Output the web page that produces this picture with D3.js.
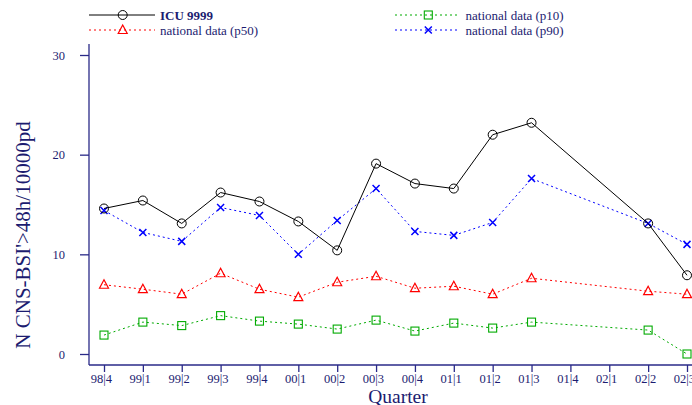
<!DOCTYPE html>
<html><head><meta charset="utf-8">
<script src="https://cdn.jsdelivr.net/npm/d3@7"></script>
<style>body{margin:0;background:#fff}svg{display:block}</style>
</head><body>
<svg id="c" width="692" height="405"></svg>
<script>
const quarters = ["98|4","99|1","99|2","99|3","99|4","00|1","00|2","00|3","00|4","01|1","01|2","01|3","01|4","02|1","02|2","02|3"];
const icu  = [14.6,15.4,13.1,16.2,15.3,13.3,10.4,19.1,17.1,16.6,22.0,23.2,null,null,13.1,7.9];
const p90  = [14.4,12.2,11.3,14.7,13.9,10.0,13.4,16.6,12.3,11.9,13.2,17.6,null,null,13.1,11.0];
const p50  = [6.95,6.5,6.0,8.1,6.5,5.7,7.2,7.8,6.6,6.8,6.0,7.6,null,null,6.3,6.0];
const p10  = [1.9,3.2,2.85,3.85,3.3,3.0,2.5,3.4,2.3,3.1,2.6,3.2,null,null,2.4,0.0];
const yTicks = [0,10,20,30];

const svg = d3.select("#c");
const txt = "#1c1c70";
const axc = "#2a2a88";
const font = "'Liberation Serif','Times New Roman',serif";

const x = d3.scalePoint().domain(quarters).range([104,687]);
const y = d3.scaleLinear().domain([0,30]).range([354,55]);

// axes
const ya = svg.append("g").attr("transform","translate(89,0)")
  .call(d3.axisLeft(y).tickValues(yTicks).tickSize(9).tickPadding(15));
ya.select(".domain").attr("d","M0,44V365");
const xa = svg.append("g").attr("transform","translate(0,365)")
  .call(d3.axisBottom(x).tickSize(7).tickPadding(2.5));
xa.select(".domain").attr("d","M89,0H692");
svg.selectAll(".tick line, .domain").attr("stroke",axc).attr("stroke-width",1.3);
svg.selectAll(".tick text").attr("fill",txt).attr("font-family",font).attr("font-size",12.5);

// align the "|" of each quarter label with its tick (single text node)
xa.selectAll(".tick text").each(function(d){
  const n = this;
  d3.select(n).attr("text-anchor","start").attr("x",0);
  const k = d.indexOf("|");
  const wa = n.getSubStringLength(0,k);
  const wb = n.getSubStringLength(k,1);
  d3.select(n).attr("x", -wa - wb/2);
});

// titles
svg.append("text").attr("transform","translate(30,235) rotate(-90)").attr("text-anchor","middle")
  .attr("fill",txt).attr("font-family",font).attr("font-size",21).text("N CNS-BSI'>48h/10000pd");
svg.append("text").attr("x",398).attr("y",402.5).attr("text-anchor","middle")
  .attr("fill",txt).attr("font-family",font).attr("font-size",19.5).text("Quarter");

const series = [
  {name:"ICU 9999", vals:icu, color:"#000", dash:null, shape:"circle", bold:true},
  {name:"national data (p50)", vals:p50, color:"#ff0000", dash:"2,3", shape:"triangle"},
  {name:"national data (p10)", vals:p10, color:"#00aa00", dash:"2,3", shape:"square"},
  {name:"national data (p90)", vals:p90, color:"#0000ff", dash:"2,3", shape:"cross"}
];

function marker(g, shape, color, cx, cy){
  if(shape==="circle") g.append("circle").attr("cx",cx).attr("cy",cy).attr("r",4.5).attr("fill","none").attr("stroke",color).attr("stroke-width",1);
  else if(shape==="triangle") g.append("path").attr("d",`M${cx},${cy-5}L${cx+4.5},${cy+3.5}L${cx-4.5},${cy+3.5}Z`).attr("fill","none").attr("stroke",color).attr("stroke-width",1.2);
  else if(shape==="square") g.append("rect").attr("x",cx-4).attr("y",cy-4).attr("width",8).attr("height",8).attr("fill","none").attr("stroke",color).attr("stroke-width",1.1);
  else g.append("path").attr("d",`M${cx-3.5},${cy-3.5}L${cx+3.5},${cy+3.5}M${cx-3.5},${cy+3.5}L${cx+3.5},${cy-3.5}`).attr("stroke",color).attr("stroke-width",1.5);
}

const order = [series[2], series[1], series[3], series[0]];
order.forEach(s=>{
  const pts = quarters.map((q,i)=>({q,v:s.vals[i]})).filter(d=>d.v!=null);
  const line = d3.line().x(d=>x(d.q)).y(d=>y(d.v));
  svg.append("path").datum(pts).attr("d",line).attr("fill","none").attr("stroke",s.color)
    .attr("stroke-width",1).attr("stroke-dasharray",s.dash);
  const g = svg.append("g");
  pts.forEach(d=>marker(g,s.shape,s.color,x(d.q),y(d.v)));
});

// legend
const leg = [
  {s:series[0], x0:89, x1:155, mx:122.7, tx:160, y:15},
  {s:series[1], x0:89, x1:155, mx:122.7, tx:160, y:30},
  {s:series[2], x0:395, x1:458, mx:428.3, tx:465.5, y:15},
  {s:series[3], x0:395, x1:458, mx:428.3, tx:465.5, y:30}
];
leg.forEach(l=>{
  svg.append("line").attr("x1",l.x0).attr("x2",l.x1).attr("y1",l.y).attr("y2",l.y)
    .attr("stroke",l.s.color).attr("stroke-width",1).attr("stroke-dasharray",l.s.dash);
  const g = svg.append("g");
  marker(g,l.s.shape,l.s.color,l.mx,l.y);
  svg.append("text").attr("x",l.tx).attr("y",l.y+4.5).attr("fill",txt).attr("font-family",font)
    .attr("font-size",13).attr("font-weight",l.s.bold?"bold":"normal").text(l.s.name);
});
</script>
</body></html>
